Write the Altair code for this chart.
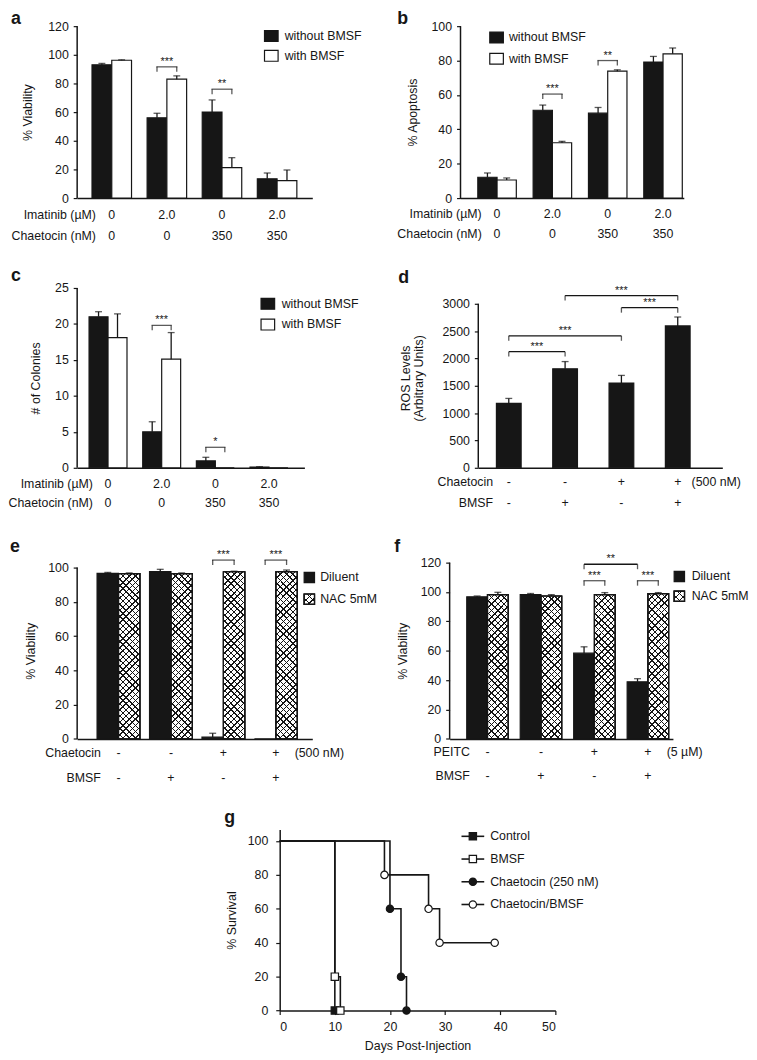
import altair as alt
import pandas as pd

# ---------------- data ----------------
GROUPS = ["g1", "g2", "g3", "g4"]

AB_SERIES = ["without BMSF", "with BMSF"]
IMATINIB_LABELS = ["0", "2.0", "0", "2.0"]
CHAETOCIN_LABELS = ["0", "0", "350", "350"]

# panel a : % viability
A_WITHOUT = [93.0, 56.0, 60.0, 13.5]
A_WITHOUT_ERR = [1.0, 3.2, 8.5, 4.0]
A_WITH = [96.2, 83.0, 21.2, 12.2]
A_WITH_ERR = [0.3, 2.3, 7.0, 7.4]
A_SIG_GROUP = ["g2", "g3"]
A_SIG_Y = [91.6, 76.0]
A_SIG_TEXT = ["***", "**"]

# panel b : % apoptosis
B_WITHOUT = [12.1, 51.1, 49.4, 79.1]
B_WITHOUT_ERR = [2.5, 3.0, 3.3, 3.3]
B_WITH = [10.5, 32.2, 73.8, 83.9]
B_WITH_ERR = [1.2, 0.8, 0.8, 3.4]
B_SIG_GROUP = ["g2", "g3"]
B_SIG_Y = [60.5, 80.0]
B_SIG_TEXT = ["***", "**"]

# panel c : # of colonies
C_WITHOUT = [21.0, 5.0, 0.96, 0.1]
C_WITHOUT_ERR = [0.7, 1.4, 0.5, 0.05]
C_WITH = [18.1, 15.1, 0.0, 0.0]
C_WITH_ERR = [3.3, 3.7, 0.0, 0.0]
C_SIG_GROUP = ["g2", "g3"]
C_SIG_Y = [19.8, 2.85]
C_SIG_TEXT = ["***", "*"]

# panel d : ROS levels
D_VALUES = [1179, 1810, 1551, 2595]
D_ERR = [90, 133, 139, 163]
D_SIG_FROM = ["g1", "g1", "g3", "g2"]
D_SIG_TO = ["g2", "g3", "g4", "g4"]
D_SIG_Y = [2124, 2414, 2928, 3150]
D_CHAETOCIN = ["-", "-", "+", "+"]
D_BMSF = ["-", "+", "-", "+"]

# panel e : % viability, chaetocin +/- NAC
EF_SERIES = ["Diluent", "NAC 5mM"]
E_DILUENT = [96.6, 97.7, 1.0, 0.0]
E_DILUENT_ERR = [0.6, 1.3, 2.3, 0.0]
E_NAC = [96.5, 96.5, 97.6, 97.6]
E_NAC_ERR = [0.4, 0.4, 0.3, 1.0]
E_SIG_GROUP = ["g3", "g4"]
E_SIG_Y = [104.4, 104.4]
E_SIG_TEXT = ["***", "***"]
E_CHAETOCIN = ["-", "-", "+", "+"]
E_BMSF = ["-", "+", "-", "+"]

# panel f : % viability, PEITC +/- NAC
F_DILUENT = [96.7, 98.2, 58.4, 38.9]
F_DILUENT_ERR = [0.6, 0.8, 4.3, 2.1]
F_NAC = [98.2, 97.3, 98.2, 98.9]
F_NAC_ERR = [1.6, 0.9, 1.4, 0.7]
F_SIG_GROUP = ["g3", "g4"]
F_SIG_Y = [107.7, 107.7]
F_SIG_TEXT = ["***", "***"]
F_CROSS_FROM = ["g3"]
F_CROSS_TO = ["g4"]
F_CROSS_Y = [118.9]
F_CROSS_TEXT = ["**"]
F_PEITC = ["-", "-", "+", "+"]
F_BMSF = ["-", "+", "-", "+"]

# panel g : survival
G_SERIES = ["Control", "BMSF", "Chaetocin (250 nM)", "Chaetocin/BMSF"]
G_CONTROL_DAYS = [0, 10]
G_CONTROL_SURV = [100, 0]
G_BMSF_DAYS = [0, 10, 11]
G_BMSF_SURV = [100, 20, 0]
G_CHAET_DAYS = [0, 20, 22, 23]
G_CHAET_SURV = [100, 60, 20, 0]
G_COMBO_DAYS = [0, 19, 27, 29, 39]
G_COMBO_SURV = [100, 80, 60, 40, 40]

# ---------------- style ----------------
FONT = "Liberation Sans"
INK = "#161616"
CLEAR = "rgba(0,0,0,0)"
FS = 12.5
ONE = pd.DataFrame({"k": [0]})
BOX_WIDE = "M-1.25,-1H1.25V1H-1.25Z"
BOX_SQ = "M-1,-1H1V1H-1Z"
PAD = {"top": -5, "left": 0, "right": 0, "bottom": 0}


def label(text, x, y, size=FS, weight="normal", align="center", baseline="middle"):
    return alt.Chart(ONE).mark_text(font=FONT, fontSize=size, fontWeight=weight, align=align,
                                    baseline=baseline, color=INK).encode(
        x=alt.value(x), y=alt.value(y), text=alt.value(text))


def hatch(w, h, pitch, lw, flip):
    """one half of a cross-hatch: 45 degree stripes as a linear gradient in bbox units"""
    c = (w + h) / (w * w + h * h)
    dx, dy = c * w, c * h
    n = max(1, round((w + h) / pitch))
    tl = lw / (w + h)
    stops = []
    for i in range(n):
        t0 = i / n
        t1 = min(t0 + tl, (i + 1) / n)
        stops += [{"offset": t0, "color": INK}, {"offset": t1, "color": INK},
                  {"offset": t1, "color": CLEAR}, {"offset": (i + 1) / n, "color": CLEAR}]
    x1, x2 = (1.0, 1.0 - dx) if flip else (0.0, dx)
    return {"gradient": "linear", "x1": x1, "y1": 0, "x2": x2, "y2": dy, "stops": stops}


def axes(cfg):
    xs = alt.Scale(domain=GROUPS, paddingInner=cfg["pi"], paddingOuter=cfg["po"], align=cfg["al"])
    xa = alt.Axis(labels=False, ticks=False, title=None, domainWidth=1.5, domainColor=INK)
    ys = alt.Scale(domain=[0, cfg["ymax"]], nice=False, zero=False)
    ya = alt.Axis(values=cfg["yticks"], title=cfg["ytitle"], titlePadding=cfg["tp"], domain=False,
                  tickSize=4, tickWidth=1.2, tickColor=INK, labelPadding=5, titleLineHeight=13,
                  format="d")
    X = lambda f="grp": alt.X(f"{f}:N", scale=xs, axis=xa)
    Y = lambda f: alt.Y(f"{f}:Q", scale=ys, axis=ya)
    return xs, ys, ya, X, Y


def common_layers(cfg, X, ys, ya):
    H = cfg["H"]
    layers = []
    # y-axis line that stops at the top tick
    layers.append(alt.Chart(ONE).mark_rule(color=INK, strokeWidth=1.5).encode(
        x=alt.value(0), y=alt.YDatum(0, type="quantitative", scale=ys, axis=ya),
        y2=alt.Y2Datum(cfg["ytop"])))
    lab = pd.DataFrame({"grp": GROUPS, "r1": cfg["r1"], "r2": cfg["r2"]})
    for key, dy in (("r1", cfg["r1dy"]), ("r2", cfg["r2dy"])):
        layers.append(alt.Chart(lab).mark_text(font=FONT, fontSize=FS, color=INK).encode(
            x=X(), y=alt.value(H + dy), text=f"{key}:N"))
    layers.append(label(cfg["r1name"], cfg["hx"], H + cfg["r1dy"], align="right"))
    layers.append(label(cfg["r2name"], cfg["hx"], H + cfg["r2dy"], align="right"))
    if cfg.get("note"):
        nd = pd.DataFrame({"grp": ["g4"], "t": [cfg["note"]]})
        layers.append(alt.Chart(nd).mark_text(font=FONT, fontSize=FS, color=INK, align="left",
                                              dx=cfg["note_dx"]).encode(
            x=X(), y=alt.value(H + cfg["r1dy"]), text="t:N"))
    lx, ly = cfg["letter_xy"]
    layers.append(label(cfg["letter"], lx, ly, size=18, weight="bold", align="left"))
    return layers


def grouped(cfg):
    ser = cfg["series"]
    W, H = cfg["W"], cfg["H"]
    step = W / (4 - cfg["pi"] + 2 * cfg["po"])
    bw = step * (1 - cfg["pi"]) / 2
    offs = [-bw / 2, bw / 2]
    rows = []
    for i, g in enumerate(GROUPS):
        rows.append({"grp": g, "ser": ser[0], "val": cfg["v0"][i], "err": cfg["e0"][i]})
        rows.append({"grp": g, "ser": ser[1], "val": cfg["v1"][i], "err": cfg["e1"][i]})
    df = pd.DataFrame(rows)
    xs, ys, ya, X, Y = axes(cfg)
    layers = []
    for k, s in enumerate(ser):
        base = alt.Chart(df).transform_filter(alt.datum.ser == s)
        fill = INK if k == 0 else "white"
        layers.append(base.mark_bar(width=bw, xOffset=offs[k], fill=fill, stroke=INK,
                                    strokeWidth=1.2).encode(x=X(), y=Y("val")))
        if k == 1 and cfg.get("hatched"):
            hh = H * cfg["hatch_val"] / cfg["ymax"]
            for flip in (False, True):
                layers.append(base.mark_bar(width=bw, xOffset=offs[k], stroke=INK, strokeWidth=1.2,
                                            fill=hatch(bw, hh, 6.3, 1.5, flip)).encode(
                    x=X(), y=Y("val")))
        eb = base.transform_filter("datum.err > 0").transform_calculate(hi="datum.val + datum.err")
        layers.append(eb.mark_rule(color=INK, strokeWidth=1.3, xOffset=offs[k]).encode(
            x=X(), y=Y("val"), y2=alt.Y2("hi")))
        layers.append(eb.mark_tick(color=INK, thickness=1.3, size=7, orient="horizontal",
                                   xOffset=offs[k]).encode(x=X(), y=Y("hi")))

    # significance brackets inside a group
    sig = pd.DataFrame({"grp": cfg["sig_g"], "h": cfg["sig_y"], "t": cfg["sig_t"]})
    layers.append(alt.Chart(sig).mark_tick(color=INK, thickness=1.3, size=bw + 1.3,
                                           orient="horizontal").encode(x=X(), y=Y("h")))
    for o in offs:
        layers.append(alt.Chart(sig).mark_tick(color=INK, thickness=1.3, size=5, orient="vertical",
                                               yOffset=2.5, xOffset=o).encode(x=X(), y=Y("h")))
    layers.append(alt.Chart(sig).mark_text(font=FONT, fontSize=11, dy=-2, baseline="alphabetic",
                                           color=INK).encode(x=X(), y=Y("h"), text="t:N"))
    # bracket between the first series of two groups
    if cfg.get("cross"):
        cf, ct, cy, ctxt = cfg["cross"]
        cr = pd.DataFrame({"a": cf, "b": ct, "h": cy, "t": ctxt})
        layers.append(alt.Chart(cr).mark_rule(color=INK, strokeWidth=1.3, xOffset=offs[0],
                                              x2Offset=offs[0]).encode(
            x=X("a"), x2=alt.X2("b"), y=Y("h")))
        for fld in ("a", "b"):
            layers.append(alt.Chart(cr).mark_tick(color=INK, thickness=1.3, size=5,
                                                  orient="vertical", yOffset=2.5,
                                                  xOffset=offs[0]).encode(x=X(fld), y=Y("h")))
        layers.append(alt.Chart(cr).mark_text(font=FONT, fontSize=11, dy=-2, baseline="alphabetic",
                                              color=INK, dx=step / 2 + offs[0]).encode(
            x=X("a"), y=Y("h"), text="t:N"))

    layers += common_layers(cfg, X, ys, ya)

    # legend
    lx, ly, ld, tdx, shape, size = cfg["leg"]
    for i, s in enumerate(ser):
        y = ly + i * ld
        if i == 0:
            fills = [INK]
        elif cfg.get("hatched"):
            side = size ** 0.5
            fills = ["white", hatch(side, side, 6.3, 1.5, False), hatch(side, side, 6.3, 1.5, True)]
        else:
            fills = ["white"]
        for f in fills:
            layers.append(alt.Chart(ONE).mark_point(shape=shape, size=size, filled=True, fill=f,
                                                    stroke=INK, strokeWidth=1.2, opacity=1).encode(
                x=alt.value(lx), y=alt.value(y)))
        layers.append(label(s, lx + tdx, y, align="left"))
    return alt.layer(*layers).properties(width=W, height=H)


def panel_d(cfg):
    W, H = cfg["W"], cfg["H"]
    step = W / (4 - cfg["pi"] + 2 * cfg["po"])
    xs, ys, ya, X, Y = axes(cfg)
    df = pd.DataFrame({"grp": GROUPS, "val": D_VALUES, "err": D_ERR})
    layers = [alt.Chart(df).mark_bar(fill=INK, stroke=INK, strokeWidth=1.2).encode(x=X(), y=Y("val"))]
    eb = alt.Chart(df).transform_calculate(hi="datum.val + datum.err")
    layers.append(eb.mark_rule(color=INK, strokeWidth=1.3).encode(x=X(), y=Y("val"), y2=alt.Y2("hi")))
    layers.append(eb.mark_tick(color=INK, thickness=1.3, size=7, orient="horizontal").encode(
        x=X(), y=Y("hi")))
    sig = pd.DataFrame({"a": D_SIG_FROM, "b": D_SIG_TO, "h": D_SIG_Y})
    layers.append(alt.Chart(sig).mark_rule(color=INK, strokeWidth=1.3).encode(
        x=X("a"), x2=alt.X2("b"), y=Y("h")))
    for fld in ("a", "b"):
        layers.append(alt.Chart(sig).mark_tick(color=INK, thickness=1.3, size=5, orient="vertical",
                                               yOffset=2.5).encode(x=X(fld), y=Y("h")))
    for a, b, h in zip(D_SIG_FROM, D_SIG_TO, D_SIG_Y):
        dx = (GROUPS.index(b) - GROUPS.index(a)) * step / 2
        one = pd.DataFrame({"grp": [a], "h": [h]})
        layers.append(alt.Chart(one).mark_text(font=FONT, fontSize=11, dy=-2, dx=dx,
                                               baseline="alphabetic", color=INK).encode(
            x=X(), y=Y("h"), text=alt.value("***")))
    layers += common_layers(cfg, X, ys, ya)
    return alt.layer(*layers).properties(width=W, height=H)


def panel_g():
    W, H = 279, 183.4
    rows = []
    for name, days, surv in zip(G_SERIES,
                                [G_CONTROL_DAYS, G_BMSF_DAYS, G_CHAET_DAYS, G_COMBO_DAYS],
                                [G_CONTROL_SURV, G_BMSF_SURV, G_CHAET_SURV, G_COMBO_SURV]):
        for d, s in zip(days, surv):
            rows.append({"series": name, "day": d, "surv": s})
    df = pd.DataFrame(rows)
    xs = alt.Scale(domain=[0, 50], nice=False)
    ys = alt.Scale(domain=[0, 106.8], nice=False)
    xa = alt.Axis(values=[0, 10, 20, 30, 40, 50], title="Days Post-Injection", tickSize=4,
                  labelPadding=6, titlePadding=7, domainWidth=1.5, tickWidth=1.2)
    ya = alt.Axis(values=[0, 20, 40, 60, 80, 100], title="% Survival", tickSize=4, labelPadding=8,
                  titlePadding=9, domainWidth=1.5, tickWidth=1.2)
    X = alt.X("day:Q", scale=xs, axis=xa)
    Y = alt.Y("surv:Q", scale=ys, axis=ya)
    shp = alt.Scale(domain=G_SERIES, range=["square", "square", "circle", "circle"])
    fil = alt.Scale(domain=G_SERIES, range=[INK, "white", INK, "white"])
    lines = alt.Chart(df).mark_line(interpolate="step-after", color=INK, strokeWidth=1.6).encode(
        x=X, y=Y, detail="series:N")
    pts = alt.Chart(df).transform_filter("datum.day > 0").mark_point(
        filled=True, size=55, stroke=INK, strokeWidth=1.2, opacity=1).encode(
        x=X, y=Y, shape=alt.Shape("series:N", scale=shp, legend=None),
        fill=alt.Fill("series:N", scale=fil, legend=None))
    layers = [lines, pts]
    shapes = ["square", "square", "circle", "circle"]
    fills = [INK, "white", INK, "white"]
    for i, s in enumerate(G_SERIES):
        y = 7 + i * 23
        layers.append(alt.Chart(ONE).mark_rule(color=INK, strokeWidth=1.6).encode(
            x=alt.value(184), x2=alt.value(207), y=alt.value(y)))
        layers.append(alt.Chart(ONE).mark_point(shape=shapes[i], size=55, filled=True, fill=fills[i],
                                                stroke=INK, strokeWidth=1.2, opacity=1).encode(
            x=alt.value(195.5), y=alt.value(y)))
        layers.append(label(s, 213, y, align="left"))
    layers.append(label("g", -56, -11.2, size=18, weight="bold", align="left"))
    return alt.layer(*layers).properties(width=W, height=H)


CFG_A = dict(letter="a", letter_xy=(-67, -7.3), series=AB_SERIES,
             v0=A_WITHOUT, e0=A_WITHOUT_ERR, v1=A_WITH, e1=A_WITH_ERR,
             sig_g=A_SIG_GROUP, sig_y=A_SIG_Y, sig_t=A_SIG_TEXT,
             W=238, H=174, ymax=120, ytop=120, yticks=[0, 20, 40, 60, 80, 100, 120],
             ytitle="% Viability", tp=13, pi=0.283, po=0.275, al=0.49,
             r1=IMATINIB_LABELS, r2=CHAETOCIN_LABELS, r1name="Imatinib (µM)", r2name="Chaetocin (nM)",
             hx=19, r1dy=17, r2dy=38, leg=(196.5, 10, 20, 13.5, BOX_WIDE, 121))
CFG_B = dict(letter="b", letter_xy=(-64, -7.5), series=AB_SERIES,
             v0=B_WITHOUT, e0=B_WITHOUT_ERR, v1=B_WITH, e1=B_WITH_ERR,
             sig_g=B_SIG_GROUP, sig_y=B_SIG_Y, sig_t=B_SIG_TEXT,
             W=226, H=174, ymax=100, ytop=100, yticks=[0, 20, 40, 60, 80, 100],
             ytitle="% Apoptosis", tp=12, pi=0.304, po=0.17, al=0.92,
             r1=IMATINIB_LABELS, r2=CHAETOCIN_LABELS, r1name="Imatinib (µM)", r2name="Chaetocin (nM)",
             hx=21.5, r1dy=16, r2dy=36, leg=(36.5, 11.5, 21.5, 12.5, BOX_WIDE, 121))
CFG_C = dict(letter="c", letter_xy=(-67, -12.3), series=AB_SERIES,
             v0=C_WITHOUT, e0=C_WITHOUT_ERR, v1=C_WITH, e1=C_WITH_ERR,
             sig_g=C_SIG_GROUP, sig_y=C_SIG_Y, sig_t=C_SIG_TEXT,
             W=230, H=182, ymax=25, ytop=25, yticks=[0, 5, 10, 15, 20, 25],
             ytitle="# of Colonies", tp=12, pi=0.293, po=0.264, al=0.42,
             r1=IMATINIB_LABELS, r2=CHAETOCIN_LABELS, r1name="Imatinib (µM)", r2name="Chaetocin (nM)",
             hx=16, r1dy=16, r2dy=36, leg=(193, 16, 21, 14, BOX_WIDE, 121))
CFG_D = dict(letter="d", letter_xy=(-81, -10),
             W=247, H=182, ymax=3289, ytop=3000, yticks=[0, 500, 1000, 1500, 2000, 2500, 3000],
             ytitle=["ROS Levels", "(Arbitrary Units)"], tp=17, pi=0.561, po=0.447, al=0.36,
             r1=D_CHAETOCIN, r2=D_BMSF, r1name="Chaetocin", r2name="BMSF",
             hx=15, r1dy=14, r2dy=36, note="(500 nM)", note_dx=14)
CFG_E = dict(letter="e", letter_xy=(-68, -15.3), series=EF_SERIES, hatched=True, hatch_val=97,
             v0=E_DILUENT, e0=E_DILUENT_ERR, v1=E_NAC, e1=E_NAC_ERR,
             sig_g=E_SIG_GROUP, sig_y=E_SIG_Y, sig_t=E_SIG_TEXT,
             W=238, H=178.4, ymax=102.9, ytop=100, yticks=[0, 20, 40, 60, 80, 100],
             ytitle="% Viability", tp=10, pi=0.183, po=0.333, al=0.57,
             r1=E_CHAETOCIN, r2=E_BMSF, r1name="Chaetocin", r2name="BMSF",
             hx=24, r1dy=14, r2dy=40, note="(500 nM)", note_dx=19,
             leg=(235, 15, 22, 11, BOX_SQ, 110))
CFG_F = dict(letter="f", letter_xy=(-56, -15.5), series=EF_SERIES, hatched=True, hatch_val=98,
             v0=F_DILUENT, e0=F_DILUENT_ERR, v1=F_NAC, e1=F_NAC_ERR,
             sig_g=F_SIG_GROUP, sig_y=F_SIG_Y, sig_t=F_SIG_TEXT,
             cross=(F_CROSS_FROM, F_CROSS_TO, F_CROSS_Y, F_CROSS_TEXT),
             W=226, H=178.4, ymax=120, ytop=120, yticks=[0, 20, 40, 60, 80, 100, 120],
             ytitle="% Viability", tp=11, pi=0.224, po=0.2, al=0.8,
             r1=F_PEITC, r2=F_BMSF, r1name="PEITC", r2name="BMSF",
             hx=20.5, r1dy=13, r2dy=38, note="(5 µM)", note_dx=19,
             leg=(232.5, 14, 20, 12.5, BOX_SQ, 110))


def gap(h, w=1):
    return alt.Chart(ONE).mark_point(opacity=0, size=1).encode(
        x=alt.value(0), y=alt.value(0)).properties(width=w, height=h)


row1 = alt.hconcat(grouped(CFG_A), grouped(CFG_B), spacing=36)
row2 = alt.hconcat(grouped(CFG_C), panel_d(CFG_D), spacing=40)
row3 = alt.hconcat(grouped(CFG_E), grouped(CFG_F), spacing=17)
row4 = alt.hconcat(gap(20, 139), panel_g(), spacing=10)

chart = alt.vconcat(row1, gap(23), row2, gap(27), row3, gap(23), row4, spacing=0).properties(
    padding=PAD
).configure(padding=PAD).configure_view(strokeWidth=0).configure_axis(
    labelFont=FONT, titleFont=FONT, labelFontSize=FS, titleFontSize=FS, labelColor=INK,
    titleColor=INK, titleFontWeight="normal", domainColor=INK, tickColor=INK, grid=False,
    domainWidth=1.5, tickWidth=1.2)

chart.save("out.html", embed_options={"renderer": "svg", "actions": False})
